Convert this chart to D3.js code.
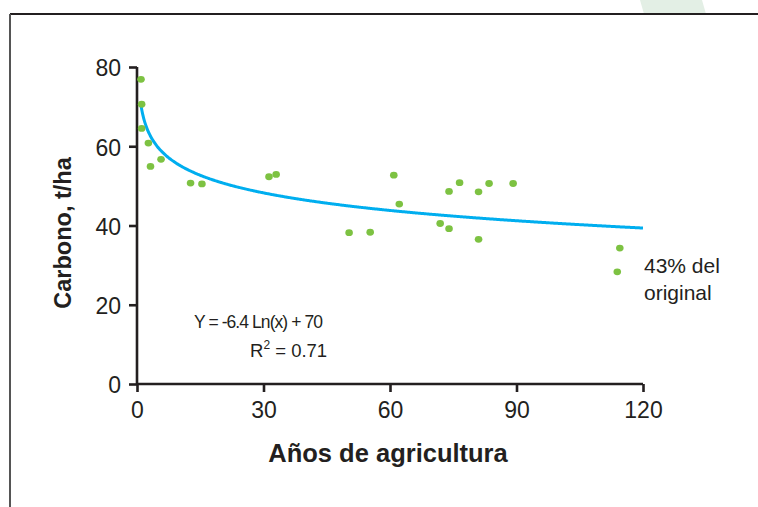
<!DOCTYPE html>
<html><head><meta charset="utf-8">
<script src="https://cdn.jsdelivr.net/npm/d3@7"></script>
<style>
html,body{margin:0;padding:0;background:#fff;}
svg{display:block;font-family:"Liberation Sans",Arial,Helvetica,sans-serif;}
</style></head>
<body>
<svg id="chart" width="758" height="507"></svg>
<script>
// Data
const years  = [0.95, 1.1, 1.1, 2.7, 3.2, 5.7, 12.7, 15.4, 31.3, 33.0,
                50.3, 55.3, 60.9, 62.2, 71.9, 74.0, 74.0, 76.5, 81.0, 81.0, 83.5, 89.2,
                114.5, 113.9];
const carbon = [76.9, 70.6, 64.5, 60.8, 54.9, 56.7, 50.7, 50.5, 52.3, 52.9,
                38.2, 38.3, 52.7, 45.4, 40.5, 39.2, 48.6, 50.8, 48.5, 36.5, 50.6, 50.6,
                34.3, 28.3];
const xTicks = [0, 30, 60, 90, 120];
const yTicks = [0, 20, 40, 60, 80];
// Trend line coefficients, as printed on the chart: Y = -6.4 Ln(x) + 70
const trendA = -6.4, trendB = 70;
const trendStart = 0.9, trendEnd = 120;

const svg = d3.select("#chart");
const ink = "#231f20";

// decorative green band at top
svg.append("polygon")
  .attr("points", "640,0 702,0 706,14 644,14")
  .attr("fill", "#e3efe5");

// frame lines
svg.append("line").attr("x1", 10).attr("x2", 758).attr("y1", 14).attr("y2", 14)
  .attr("stroke", ink).attr("stroke-width", 2);
svg.append("line").attr("x1", 10).attr("x2", 10).attr("y1", 14).attr("y2", 507)
  .attr("stroke", "#555").attr("stroke-width", 2);

const x = d3.scaleLinear().domain([0, 120]).range([137, 643]);
const y = d3.scaleLinear().domain([0, 80]).range([384, 67]);

// trend curve
const trendX = d3.range(trendStart, trendEnd + 0.001, 0.25);
if (trendX[trendX.length - 1] < trendEnd) trendX.push(trendEnd);
svg.append("path")
  .datum(trendX)
  .attr("fill", "none")
  .attr("stroke", "#00aeef")
  .attr("stroke-width", 3)
  .attr("d", d3.line().x(d => x(d)).y(d => y(trendA * Math.log(d) + trendB)).curve(d3.curveMonotoneX));

// axes
const xAxis = svg.append("g").attr("transform", `translate(0,${y(0)})`)
  .call(d3.axisBottom(x).tickValues(xTicks).tickSize(8).tickSizeOuter(0).tickPadding(10));
const yAxis = svg.append("g").attr("transform", `translate(${x(0)},0)`)
  .call(d3.axisLeft(y).tickValues(yTicks).tickSize(8).tickSizeOuter(0).tickPadding(8));
[xAxis, yAxis].forEach(g => {
  g.select(".domain").attr("stroke", ink).attr("stroke-width", 2.6);
  g.selectAll(".tick line").attr("stroke", ink).attr("stroke-width", 2.6);
  g.selectAll(".tick text").attr("fill", ink).attr("font-size", 23)
    .attr("font-family", "'Liberation Sans',Arial,sans-serif");
});
yAxis.selectAll(".tick text").attr("dy", "0.38em");
yAxis.select(".domain").attr("d", `M0,${y(80)}V${y(0)}`);
xAxis.select(".domain").attr("d", `M${x(0)},0H${x(120)}`);

// points
svg.append("g").selectAll("ellipse")
  .data(years.map((v, i) => [v, carbon[i]]))
  .join("ellipse")
  .attr("cx", d => x(d[0]))
  .attr("cy", d => y(d[1]))
  .attr("rx", 3.8).attr("ry", 3.4)
  .attr("fill", "#7dc242");

// axis titles
svg.append("text")
  .attr("transform", "translate(71,233) rotate(-90)")
  .attr("text-anchor", "middle")
  .attr("font-weight", "bold").attr("font-size", 23.5).attr("fill", ink)
  .text("Carbono, t/ha");
svg.append("text")
  .attr("x", 388).attr("y", 462)
  .attr("text-anchor", "middle")
  .attr("font-weight", "bold").attr("font-size", 25.5).attr("fill", ink)
  .text("Años de agricultura");

// equation
svg.append("text")
  .attr("x", 194).attr("y", 328)
  .attr("font-size", 17.5).attr("fill", ink)
  .attr("textLength", 129).attr("lengthAdjust", "spacing")
  .text("Y = -6.4 Ln(x) + 70");
const r2 = svg.append("text")
  .attr("x", 250).attr("y", 357)
  .attr("font-size", 18.5).attr("fill", ink);
r2.append("tspan").text("R");
r2.append("tspan").attr("font-size", 12).attr("dy", -8).text("2");
r2.append("tspan").attr("dy", 8).text(" = 0.71");

// annotation
svg.append("text")
  .attr("x", 644).attr("y", 273)
  .attr("font-size", 21).attr("fill", ink)
  .text("43% del");
svg.append("text")
  .attr("x", 644).attr("y", 300)
  .attr("font-size", 21).attr("fill", ink)
  .text("original");
</script>
</body></html>
